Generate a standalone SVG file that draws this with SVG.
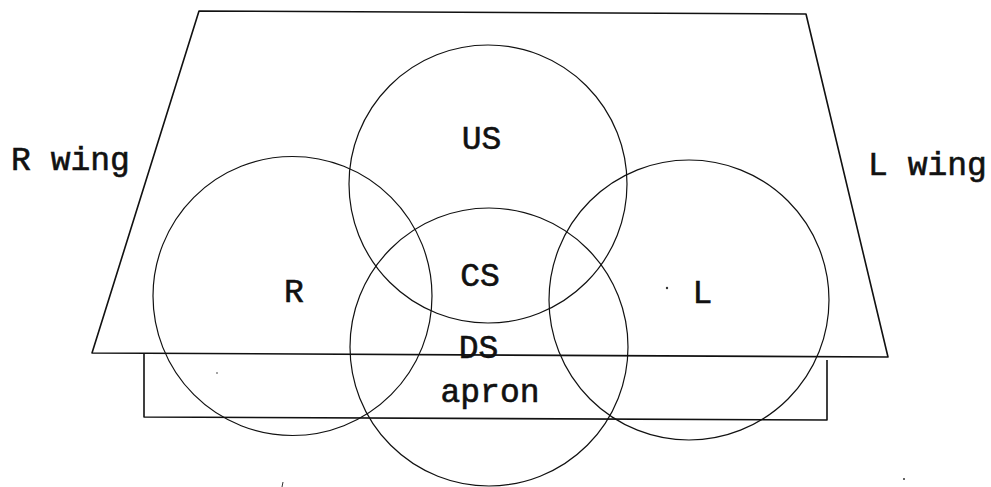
<svg xmlns="http://www.w3.org/2000/svg" width="991" height="487" viewBox="0 0 991 487">
  <style>
    .edge { fill: none; stroke: #111; stroke-width: 1.6; stroke-linejoin: round; }
    .area { fill: none; stroke: #111; stroke-width: 1.2; }
    .lbl { font-family: "Liberation Mono", "Courier New", monospace; font-size: 33px; fill: #111; stroke: #111; stroke-width: 0.6; text-anchor: middle; }
  </style>
  <rect width="991" height="487" fill="#fff"/>

  <!-- stage outline and apron -->
  <g id="stage">
    <path class="edge" d="M199,11 L806,14 L888,357 L92,353 Z"/>
  </g>
  <g id="apron">
    <path class="edge" d="M144,354 L144,417 L827,420 L827,360"/>
  </g>

  <!-- acting areas -->
  <g id="area-us">
    <circle class="area" cx="488" cy="184" r="139"/>
    <text class="lbl" x="481.5" y="149">US</text>
  </g>
  <g id="area-r">
    <circle class="area" cx="292.5" cy="296" r="139.5"/>
    <text class="lbl" x="294" y="302">R</text>
  </g>
  <g id="area-l">
    <circle class="area" cx="689" cy="300" r="140"/>
    <text class="lbl" x="702.5" y="303">L</text>
  </g>
  <g id="area-ds">
    <circle class="area" cx="489" cy="347" r="139"/>
  </g>

  <!-- labels -->
  <g id="labels">
    <text class="lbl" x="480" y="286">CS</text>
    <text class="lbl" x="478.5" y="358">DS</text>
    <text class="lbl" x="490" y="402">apron</text>
    <text class="lbl" x="70.5" y="170">R wing</text>
    <text class="lbl" x="927.5" y="175">L wing</text>
  </g>

  <!-- specks -->
  <g id="specks" fill="#333">
    <circle cx="667" cy="288" r="1.2"/>
    <circle cx="217" cy="373" r="0.8"/>
    <circle cx="904" cy="479" r="1"/>
    <path d="M282,487 L283,482" stroke="#333" stroke-width="1" fill="none"/>
  </g>

  <g id="connectors"/>
</svg>
